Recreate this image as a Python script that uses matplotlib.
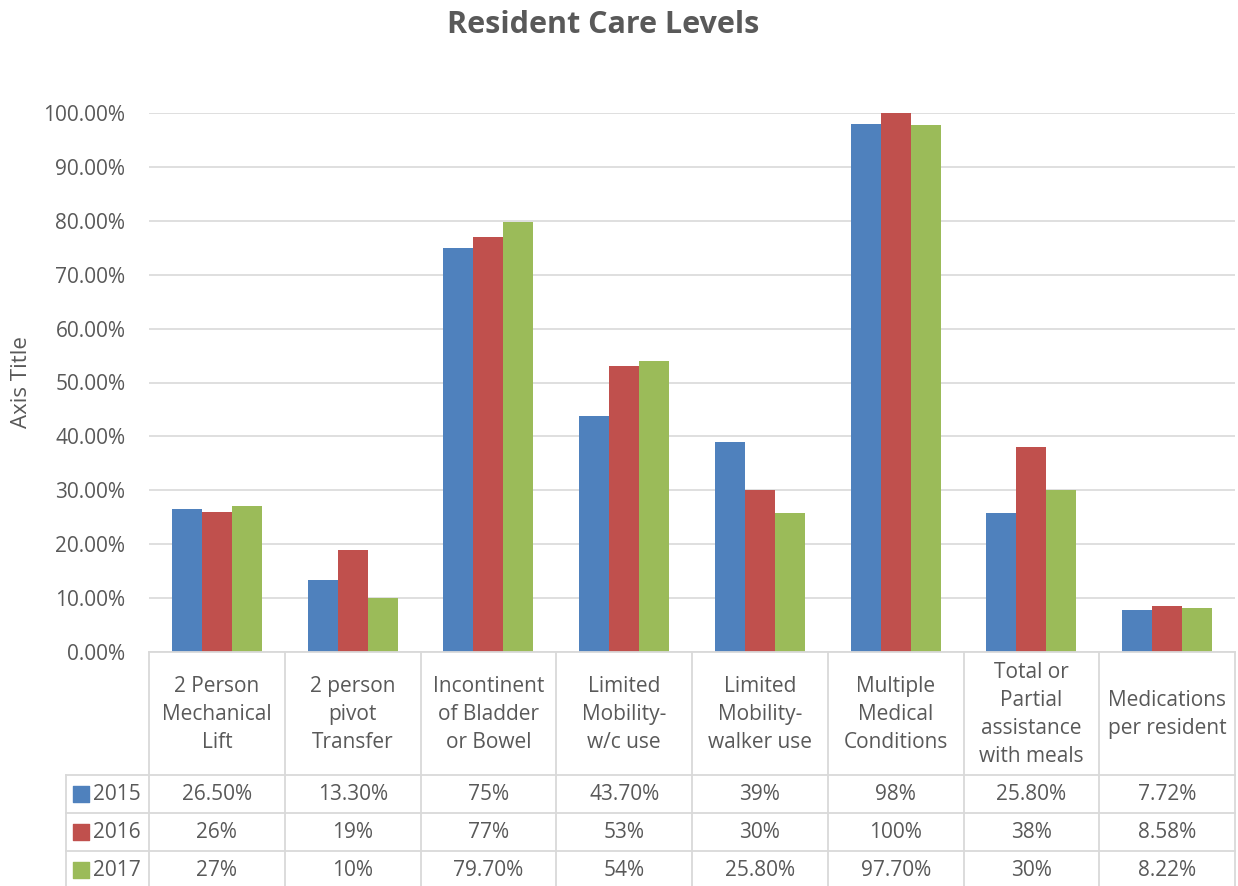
import matplotlib.pyplot as plt
import numpy as np

categories = ["2 Person\nMechanical\nLift", "2 person\npivot\nTransfer",
              "Incontinent\nof Bladder\nor Bowel", "Limited\nMobility-\nw/c use",
              "Limited\nMobility-\nwalker use", "Multiple\nMedical\nConditions",
              "Total or\nPartial\nassistance\nwith meals", "Medications\nper resident"]
years = ["2015", "2016", "2017"]
vals_2015 = [26.5, 13.3, 75, 43.7, 39, 98, 25.8, 7.72]
vals_2016 = [26, 19, 77, 53, 30, 100, 38, 8.58]
vals_2017 = [27, 10, 79.7, 54, 25.8, 97.7, 30, 8.22]
labels_2015 = ["26.50%", "13.30%", "75%", "43.70%", "39%", "98%", "25.80%", "7.72%"]
labels_2016 = ["26%", "19%", "77%", "53%", "30%", "100%", "38%", "8.58%"]
labels_2017 = ["27%", "10%", "79.70%", "54%", "25.80%", "97.70%", "30%", "8.22%"]
colors = ["#4F81BD", "#C0504D", "#9BBB59"]

series = [vals_2015, vals_2016, vals_2017]
row_labels = [labels_2015, labels_2016, labels_2017]

W, H = 1238, 886
TXT = "#595959"
GRID = "#D9D9D9"
FS = 15
plt.rcParams['font.family'] = ['Open Sans', 'DejaVu Sans']

fig = plt.figure(figsize=(W / 100, H / 100), dpi=100)

# chart area in pixels
left, right, top, base = 149, 1235, 113, 652
ax = fig.add_axes([left / W, (H - base) / H, (right - left) / W, (base - top) / H])

x = np.arange(len(categories))
bw = 0.221
for i, (vals, c) in enumerate(zip(series, colors)):
    ax.bar(x + (i - 1) * bw, np.array(vals) / 100, bw, color=c, zorder=3)

ax.set_xlim(-0.5, len(categories) - 0.5)
ax.set_ylim(0, 1.0)
ax.set_yticks(np.arange(0, 1.01, 0.1))
ax.set_yticklabels([f"{v * 100:.2f}%" for v in np.arange(0, 1.01, 0.1)],
                   fontsize=FS, color=TXT)
ax.set_xticks([])
ax.tick_params(axis="y", length=0, pad=17)
ax.grid(axis="y", color=GRID, linewidth=1.2, zorder=0)
for s in ax.spines.values():
    s.set_visible(False)
ax.set_ylabel("Axis Title", fontsize=16, color=TXT)
ax.yaxis.set_label_coords(-0.108, 0.5)

fig.text(603 / W, 1 - 25 / H, "Resident Care Levels", ha="center", va="center",
         fontsize=22, fontweight="bold", color=TXT)

# data table below the bars
tleft = 66
unit = (right - left) / len(categories)
legw = (left - tleft) / unit
tab = fig.add_axes([tleft / W, 0, (right - tleft) / W, (H - base) / H])
tab.set_xlim(-0.5 - legw, len(categories) - 0.5)
tab.set_ylim(H - base, 0)
tab.axis("off")

head_h = 123
row_h = 38
n = len(categories)
lw = 1.3
# header row borders
tab.plot([-0.5, n - 0.5], [0, 0], color=GRID, lw=lw, clip_on=False)
for k in range(n + 1):
    tab.plot([k - 0.5, k - 0.5], [0, head_h + 3 * row_h], color=GRID, lw=lw, clip_on=False)
# data row borders
for r in range(4):
    y = head_h + r * row_h
    tab.plot([-0.5 - legw, n - 0.5], [y, y], color=GRID, lw=lw, clip_on=False)
tab.plot([-0.5 - legw, -0.5 - legw], [head_h, head_h + 3 * row_h], color=GRID, lw=lw,
         clip_on=False)

for k, cat in enumerate(categories):
    tab.text(k, head_h / 2 + 1, cat, ha="center", va="center", fontsize=FS,
             color=TXT, linespacing=1.45)

for r, (yr, labs, c) in enumerate(zip(years, row_labels, colors)):
    yc = head_h + (r + 0.5) * row_h
    tab.scatter([-0.5 - legw + 0.11], [yc], marker="s", s=130, color=c, clip_on=False)
    tab.text(-0.5 - legw + 0.2, yc, yr, ha="left", va="center", fontsize=FS, color=TXT)
    for k, lab in enumerate(labs):
        tab.text(k, yc, lab, ha="center", va="center", fontsize=FS, color=TXT)

fig.savefig("out.png", dpi=100, facecolor="white")
